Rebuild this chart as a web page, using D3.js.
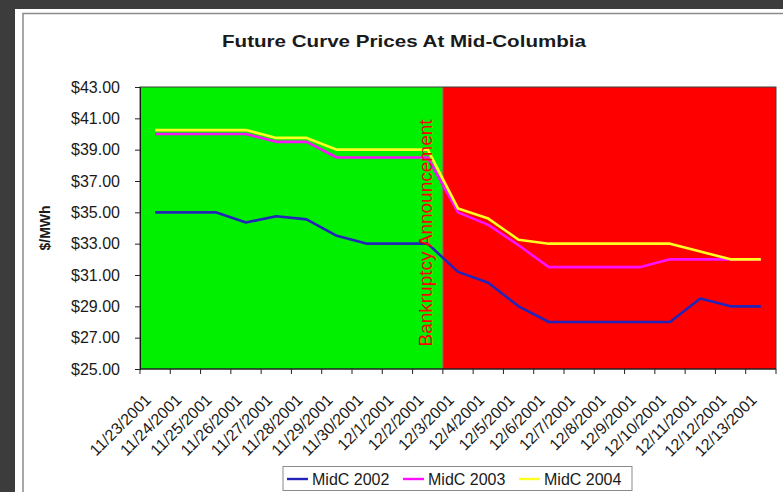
<!DOCTYPE html>
<html>
<head>
<meta charset="utf-8">
<script src="https://cdn.jsdelivr.net/npm/d3@7"></script>
<style>
  html, body { margin: 0; padding: 0; background: #3a3a3a; }
  svg { display: block; }
  text { font-family: Arial, "Liberation Sans", sans-serif; }
</style>
</head>
<body>
<svg id="chart" width="783" height="492"></svg>
<script>
// ---------- data ----------
const dates = ["11/23/2001","11/24/2001","11/25/2001","11/26/2001","11/27/2001","11/28/2001","11/29/2001",
  "11/30/2001","12/1/2001","12/2/2001","12/3/2001","12/4/2001","12/5/2001","12/6/2001","12/7/2001",
  "12/8/2001","12/9/2001","12/10/2001","12/11/2001","12/12/2001","12/13/2001"];
const midc2002 = [35.0,35.0,35.0,34.35,34.75,34.55,33.5,33.0,33.0,33.0,31.2,30.5,29.0,28.0,28.0,28.0,28.0,28.0,29.5,29.0,29.0];
const midc2003 = [40.0,40.0,40.0,40.0,39.5,39.5,38.5,38.5,38.5,38.5,35.0,34.2,32.9,31.5,31.5,31.5,31.5,32.0,32.0,32.0,32.0];
const midc2004 = [40.25,40.25,40.25,40.25,39.75,39.75,39.0,39.0,39.0,39.0,35.25,34.6,33.25,33.0,33.0,33.0,33.0,33.0,32.5,32.0,32.0];
const seriesNames = ["MidC 2002","MidC 2003","MidC 2004"];
const periods = [
  {name:"before", from:"11/23/2001", to:"12/2/2001"},
  {name:"after",  from:"12/3/2001",  to:"12/13/2001"}
];
const yTicks = [25,27,29,31,33,35,37,39,41,43];
const titleText = "Future Curve Prices At Mid-Columbia";
const yTitle = "$/MWh";
const annotation = "Bankruptcy Announcement";

// ---------- layout ----------
const svg = d3.select("#chart");
const W = 783, H = 492;
const plot = {left:140, right:776, top:87, bottom:369};
const seriesColors = ["#2424b8","#ff10ff","#ffff20"];
const periodColors = {before:"#00f000", after:"#ff0000"};

// background + panel
svg.append("rect").attr("x",0).attr("y",0).attr("width",W).attr("height",H).attr("fill","#3c3c3c");
svg.append("rect").attr("x",15).attr("y",9).attr("width",W).attr("height",H).attr("fill","#ffffff");
svg.append("rect").attr("x",23).attr("y",13.5).attr("width",W+10).attr("height",H+10)
  .attr("fill","#ffffff").attr("stroke","#8a8a8a").attr("stroke-width",1.5);

const x = d3.scaleBand().domain(dates).range([plot.left, plot.right]).paddingInner(0).paddingOuter(0);
const y = d3.scaleLinear().domain([25,43]).range([plot.bottom, plot.top]);

// period backgrounds
svg.append("g").selectAll("rect").data(periods).join("rect")
  .attr("x", d => x(d.from))
  .attr("y", y(43))
  .attr("width", d => x(d.to) + x.bandwidth() - x(d.from))
  .attr("height", y(25) - y(43))
  .attr("fill", d => periodColors[d.name]);
// boundary line
svg.append("line")
  .attr("x1", x(periods[1].from)).attr("x2", x(periods[1].from))
  .attr("y1", y(43)).attr("y2", y(25))
  .attr("stroke","#7a7a40").attr("stroke-width",1.2);

// plot border
svg.append("rect").attr("x",plot.left).attr("y",plot.top)
  .attr("width",plot.right-plot.left).attr("height",plot.bottom-plot.top)
  .attr("fill","none").attr("stroke","#404040").attr("stroke-width",1);

// y axis
const yAxis = svg.append("g").attr("transform",`translate(${plot.left},0)`)
  .call(d3.axisLeft(y).tickValues(yTicks).tickSize(5).tickPadding(15)
    .tickFormat(d => "$" + d.toFixed(2)));
yAxis.select(".domain").attr("stroke","#111");
yAxis.selectAll(".tick line").attr("stroke","#222");
yAxis.selectAll("text").attr("font-size","16px").attr("fill","#1a1a1a")
  .attr("font-family","Arial, 'Liberation Sans', sans-serif");

// x axis: ticks at band boundaries
const bounds = dates.map(d => x(d)).concat([x(dates[dates.length-1]) + x.bandwidth()]);
const xg = svg.append("g");
xg.append("line").attr("x1",plot.left).attr("x2",plot.right).attr("y1",plot.bottom).attr("y2",plot.bottom)
  .attr("stroke","#111");
xg.selectAll("line.tk").data(bounds).join("line").attr("class","tk")
  .attr("x1",d=>d).attr("x2",d=>d).attr("y1",plot.bottom).attr("y2",plot.bottom+5)
  .attr("stroke","#222");
xg.selectAll("text").data(dates).join("text")
  .attr("transform", d => `translate(${x(d) + x.bandwidth()/2 - 3},${plot.bottom + 32}) rotate(-45)`)
  .attr("text-anchor","end")
  .attr("font-size","16px").attr("fill","#1a1a1a")
  .text(d => d);

// lines
const allSeries = [midc2002, midc2003, midc2004];
const line = d3.line().x((d,i) => x(dates[i]) + x.bandwidth()/2).y(d => y(d));
svg.append("g").selectAll("path").data(allSeries).join("path")
  .attr("d", d => line(d))
  .attr("fill","none")
  .attr("stroke", (d,i) => seriesColors[i])
  .attr("stroke-width", 2.6)
  .attr("stroke-linejoin","round");

// annotation (drawn above the lines)
svg.append("text")
  .attr("transform", `translate(432,233) rotate(-90)`)
  .attr("text-anchor","middle")
  .attr("font-size","19px").attr("fill","#ff0000")
  .text(annotation);

// title
svg.append("text").attr("x",404).attr("y",47).attr("text-anchor","middle")
  .attr("font-size","17px").attr("font-weight","bold").attr("fill","#1a1a1a")
  .attr("textLength",364).attr("lengthAdjust","spacingAndGlyphs")
  .text(titleText);

// y title
svg.append("text").attr("transform","translate(50,228) rotate(-90)")
  .attr("text-anchor","middle").attr("font-size","14px").attr("font-weight","bold").attr("fill","#1a1a1a")
  .text(yTitle);

// legend
const lg = svg.append("g");
lg.append("rect").attr("x",283).attr("y",466.5).attr("width",349).attr("height",24)
  .attr("fill","#ffffff").attr("stroke","#8a8a8a").attr("stroke-width",1);
const items = lg.selectAll("g.item").data(seriesNames).join("g").attr("class","item")
  .attr("transform",(d,i)=>`translate(${287 + i*116},0)`);
items.append("line").attr("x1",0).attr("x2",21).attr("y1",479).attr("y2",479)
  .attr("stroke",(d,i)=>seriesColors[i]).attr("stroke-width",2.4);
items.append("text").attr("x",25).attr("y",485).attr("font-size","16px").attr("fill","#1a1a1a")
  .text(d=>d);
</script>
</body>
</html>
